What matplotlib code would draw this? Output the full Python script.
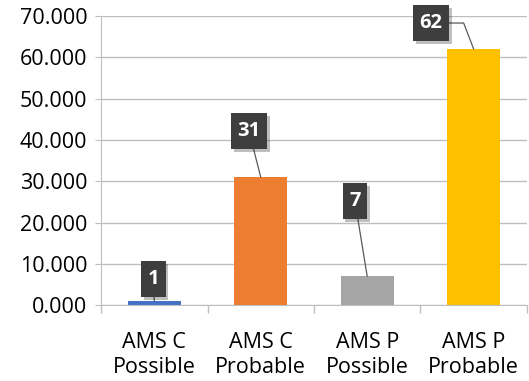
import matplotlib.pyplot as plt
import matplotlib.patheffects as pe
from matplotlib.path import Path
from matplotlib.ticker import FormatStrFormatter

plt.rcParams['font.family'] = ['Open Sans', 'DejaVu Sans']

categories = ['AMS C\nPossible', 'AMS C\nProbable', 'AMS P\nPossible', 'AMS P\nProbable']
values = [1, 31, 7, 62]
colors = ['#4472C4', '#ED7D31', '#A5A5A5', '#FFC000']

# where each data label box sits relative to its bar top (x in categories, y in data units)
label_offsets = [(-0.01, 5.3), (-0.11, 11.1), (-0.115, 18.2), (-0.40, 6.3)]


def tag_box(x0, y0, width, height, mutation_size):
    # rectangle with more padding top/bottom than left/right
    padx = 0.33 * mutation_size
    pady = 0.40 * mutation_size
    x0, x1 = x0 - padx, x0 + width + padx
    y0, y1 = y0 - pady, y0 + height + pady
    return Path([(x0, y0), (x1, y0), (x1, y1), (x0, y1), (x0, y0)], closed=True)


fig = plt.figure(figsize=(5.29, 3.81), dpi=100)
ax = fig.add_axes([0.191, 0.199, 0.805, 0.759])

x = range(len(categories))
ax.bar(x, values, width=0.5, color=colors, zorder=2)

ax.set_xlim(-0.5, len(categories) - 0.5)
ax.set_ylim(0, 70)
ax.set_yticks(range(0, 71, 10))
ax.yaxis.set_major_formatter(FormatStrFormatter('%.3f'))
ax.grid(axis='y', color='#BFBFBF', lw=1, zorder=0)

ax.set_xticks([i + 0.5 for i in range(-1, len(categories))], minor=False)
ax.set_xticklabels([])
ax.set_xticks(list(x), minor=True)
ax.set_xticklabels(categories, minor=True, fontsize=15.5, linespacing=1.25)
ax.tick_params(axis='x', which='major', length=6, color='#BFBFBF', width=1)
ax.tick_params(axis='x', which='minor', length=0, pad=19)
ax.tick_params(axis='y', length=4, color='#BFBFBF', labelsize=15.5, pad=6)

for side in ['top', 'right']:
    ax.spines[side].set_visible(False)
ax.spines['left'].set_color('#BFBFBF')
ax.spines['bottom'].set_color('#BFBFBF')

for i, (v, (dx, dy)) in enumerate(zip(values, label_offsets)):
    conn = 'arc3'
    if i == 3:
        conn = 'angle,angleA=0,angleB=111,rad=0'
    t = ax.annotate(str(v), xy=(i, v), xytext=(i + dx, v + dy),
                    ha='center', va='center', color='white', fontsize=14.5,
                    fontweight='bold', zorder=5,
                    bbox=dict(boxstyle=tag_box, facecolor='#3E3E3E',
                              edgecolor='none'),
                    arrowprops=dict(arrowstyle='-', color='#595959', lw=0.9,
                                    shrinkA=0, shrinkB=0, connectionstyle=conn))
    t.get_bbox_patch().set_path_effects([
        pe.SimplePatchShadow(offset=(2, -2), shadow_rgbFace='#000000', alpha=0.25),
        pe.Normal()])

fig.savefig('out.png', dpi=100)
